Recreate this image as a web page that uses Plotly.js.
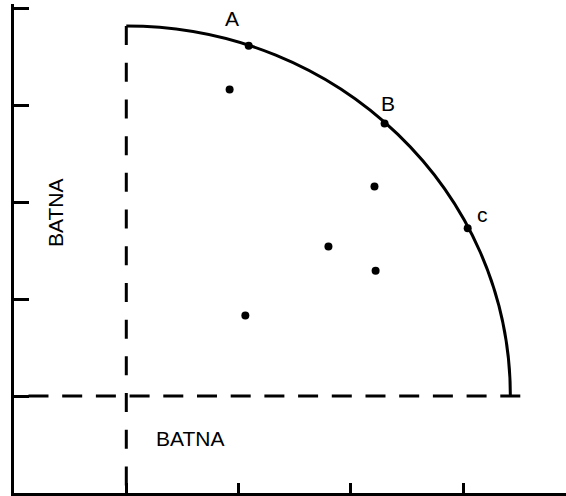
<!DOCTYPE html>
<html>
<head>
<meta charset="utf-8">
<script src="https://cdn.plot.ly/plotly-3.0.1.min.js"></script>
<style>html,body{margin:0;padding:0;background:#fff;}#chart{width:566px;height:496px;}</style>
</head>
<body>
<div id="chart"></div>
<script>
// Outcome points (x = party 1 value, y = party 2 value)
const pointX = [2.09, 3.30, 4.04, 1.92, 3.21, 2.80, 3.22, 2.06];
const pointY = [4.61, 3.81, 2.73, 4.16, 3.16, 2.54, 2.29, 1.83];
// Labels on the frontier
const labelText = ["A", "B", "c"];
const labelX = [1.94, 3.33, 4.17];
const labelY = [4.89, 4.02, 2.87];
// BATNA levels
const batnaX = 1;
const batnaY = 1;
// Pareto frontier (quarter ellipse around the BATNA point)
const frontierRx = 3.42;
const frontierRy = 3.814;
// Axis ticks
const xTicks = [0, 1, 2, 3, 4];
const yTicks = [0, 1, 2, 3, 4, 5];

const k = 0.5523;
const cx = batnaX, cy = batnaY;
const arcPath = `M ${cx},${cy + frontierRy} C ${cx + k * frontierRx},${cy + frontierRy} ${cx + frontierRx},${cy + k * frontierRy} ${cx + frontierRx},${cy}`;

const font = {family: "Liberation Sans, Arial, sans-serif", size: 21, color: "#000"};

const traces = [
  {x: [batnaX, batnaX], y: [cy + frontierRy, 0], mode: "lines",
   line: {color: "#000", width: 3, dash: "19px,17.7px"}, hoverinfo: "skip"},
  {x: [0.129, 4.524], y: [batnaY, batnaY], mode: "lines",
   line: {color: "#000", width: 3, dash: "20px,13.7px"}, hoverinfo: "skip"},
  {x: pointX, y: pointY, mode: "markers",
   marker: {color: "#000", size: 8}, hoverinfo: "skip"}
];

const annotations = labelText.map((t, i) => ({
  x: labelX[i], y: labelY[i], text: t, showarrow: false, font: font,
  xanchor: "center", yanchor: "middle"
}));
annotations.push({x: 1.567, y: 0.567, text: "BATNA", showarrow: false, font: font, xanchor: "center", yanchor: "middle"});
annotations.push({x: 0.374, y: 2.887, text: "BATNA", showarrow: false, font: font, textangle: -90, xanchor: "center", yanchor: "middle"});

const layout = {
  width: 566, height: 496,
  margin: {l: 14, r: 0, t: 4, b: 3, pad: 0},
  paper_bgcolor: "#fff", plot_bgcolor: "#fff",
  showlegend: false,
  xaxis: {range: [0, 552 / 112.3], tickvals: xTicks, showticklabels: false,
          ticks: "inside", ticklen: 10, tickwidth: 3, tickcolor: "#000",
          showline: true, linecolor: "#000", linewidth: 3,
          showgrid: false, zeroline: false, fixedrange: true},
  yaxis: {range: [0, 489 / 97], tickvals: yTicks, showticklabels: false,
          ticks: "inside", ticklen: 15, tickwidth: 3, tickcolor: "#000",
          showline: true, linecolor: "#000", linewidth: 3,
          showgrid: false, zeroline: false, fixedrange: true},
  shapes: [{type: "path", path: arcPath, xref: "x", yref: "y",
            line: {color: "#000", width: 3}, fillcolor: "rgba(0,0,0,0)"}],
  annotations: annotations
};

Plotly.newPlot("chart", traces, layout, {displayModeBar: false, staticPlot: true});
</script>
</body>
</html>
